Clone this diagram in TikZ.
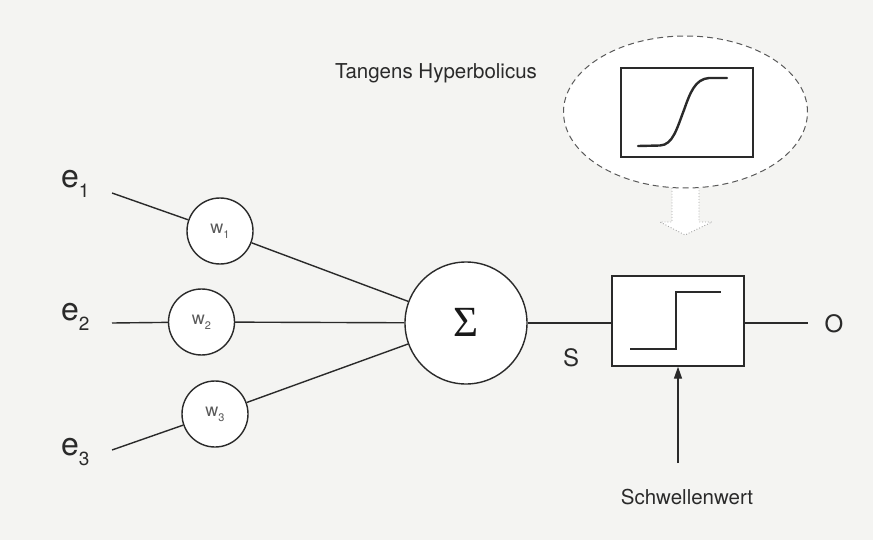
\documentclass[tikz,border=0pt]{standalone}
\usepackage{fontspec}
\setmainfont{TeX Gyre Heros}
\newfontfamily\sigfont{Liberation Serif}
\usetikzlibrary{arrows.meta,shapes.geometric}
\definecolor{paper}{HTML}{F4F4F2}
\definecolor{ink}{HTML}{2A2A2A}
\definecolor{txt}{HTML}{2A2A2A}
\tikzset{
  wire/.style={draw=ink, line width=1.4pt},
  wcirc/.style={circle, draw=ink, line width=1.4pt, fill=white, minimum size=66pt, inner sep=0pt, text=black!65},
  lab/.style={text=txt, inner sep=0pt},
}
\newcommand{\elab}[1]{{\fontsize{32}{32}\selectfont e}\raisebox{-10pt}{\fontsize{19}{19}\selectfont #1}}
\newcommand{\wlab}[1]{{\fontsize{18}{18}\selectfont w}\raisebox{-5pt}{\fontsize{11}{11}\selectfont #1}}
\begin{document}
\begin{tikzpicture}[x=1pt,y=-1pt]
\fill[paper] (0,0) rectangle (873,540);
\useasboundingbox (0,0) rectangle (873,540);

% labels e
\node[lab, anchor=base west] (le1) at (61,188) {\elab{1}};
\node[lab, anchor=base west] (le2) at (61,320) {\elab{2}};
\node[lab, anchor=base west] (le3) at (61,455) {\elab{3}};

\coordinate (e1) at (112,193);
\coordinate (e2) at (112,323);
\coordinate (e3) at (112,450);

% weights
\node[wcirc] (w1) at (220,231) {\wlab{1}};
\node[wcirc] (w2) at (201.5,322) {\wlab{2}};
\node[wcirc] (w3) at (215,414) {\wlab{3}};

% sum
\node[circle, draw=ink, line width=1.4pt, fill=white, minimum size=122pt, inner sep=0pt, text=txt] (sum) at (466,323) {};
\node[text=black!90, inner sep=0pt] (sig) at (466.5,322.5) {\sigfont\fontsize{43}{43}\selectfont Σ};

% threshold box
\node[rectangle, draw=ink, line width=1.4pt, fill=white, minimum width=132pt, minimum height=90pt, inner sep=0pt] (box) at (678,321) {};
\draw[wire] (630,349) -- (676,349) -- (676,292) -- (721,292);

\coordinate (out) at (808,323);
\coordinate (thr) at (678,463);

% connectors
\draw[wire] (e1) -- (w1);
\draw[wire] (e2) -- (w2);
\draw[wire] (e3) -- (w3);
\draw[wire] (w1) -- (sum);
\draw[wire] (w2) -- (sum);
\draw[wire] (w3) -- (sum);
\draw[wire] (sum) -- (sum -| box.west);
\draw[wire] (box.east |- out) -- (out);
\draw[wire, -{Triangle[length=12pt,width=8pt]}] (thr) -- (box.south -| thr);

% text
\node[lab] (s) at (571,358) {\fontsize{24}{24}\selectfont S};
\node[lab] (o) at (834,324) {\fontsize{24}{24}\selectfont O};
\node[lab] (sw) at (687,497) {\fontsize{20.5}{20.5}\selectfont Schwellenwert};
\node[lab] (th) at (436,73) {\fontsize{20.5}{20.5}\selectfont Tangens Hyperbolicus};

% hollow dotted arrow
\fill[white] (672,186) -- (672,222) -- (660,222) -- (685,235) -- (712,222) -- (699,222) -- (699,186) -- cycle;
\draw[black!35, dotted, line width=0.9pt] (672,188) -- (672,222) -- (660,222) -- (685,235) -- (712,222) -- (699,222) -- (699,188);

% dashed ellipse
\node[ellipse, draw=black!65, dash pattern=on 6pt off 4pt, line width=1pt, fill=white, minimum width=244pt, minimum height=152pt, inner sep=0pt] (ell) at (685.5,112) {};
\node[rectangle, draw=ink, line width=1.4pt, minimum width=132pt, minimum height=89pt, inner sep=0pt] (tbox) at (687,112.5) {};
\draw[ink, line width=2.4pt, line cap=round] (638,146) -- (660,145.5) .. controls (673,145) and (677,128) .. (684,110) .. controls (690,93) and (695,79) .. (709,78) -- (727,78);
\end{tikzpicture}
\end{document}
